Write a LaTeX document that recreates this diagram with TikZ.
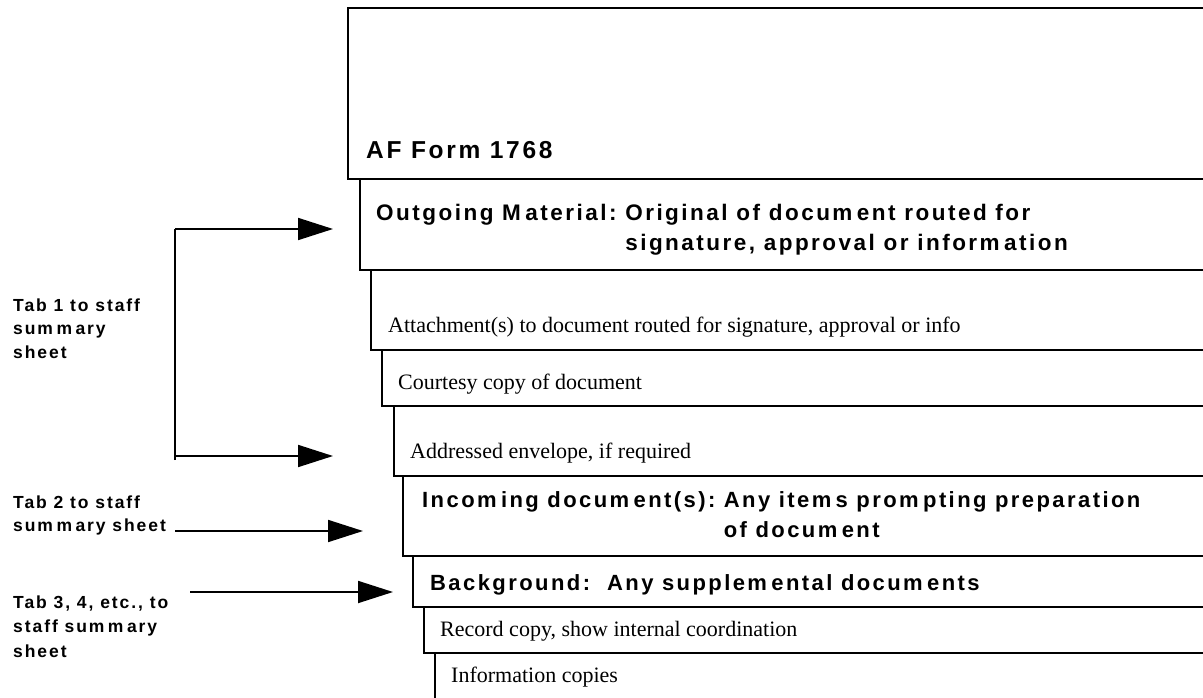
\documentclass[tikz,border=0pt]{standalone}
\usepackage{fontspec}
\setmainfont{Liberation Serif}
\newfontfamily\headfont[LetterSpace=11]{Liberation Sans}
\usetikzlibrary{arrows.meta}
% the wide gap that follows each "m" in the tracked headings
\newcommand{\mgap}{\kern0.2em}

\begin{document}
\begin{tikzpicture}[x=1pt,y=-1pt,
  box/.style={draw=black,line width=1.8pt},
  heading/.style={anchor=base west,inner sep=0pt,
    font=\headfont\bfseries\fontsize{22}{30}\selectfont},
  plain/.style={anchor=base west,inner sep=0pt,
    font=\fontsize{22}{26}\selectfont},
  tablabel/.style={anchor=base west,inner sep=0pt,
    font=\headfont\bfseries\fontsize{17.5}{23.5}\selectfont},
  wire/.style={line width=1.8pt},
  feed/.style={line width=1.8pt,-{Triangle[length=35pt,width=22pt]}},
]
\useasboundingbox (0,0) rectangle (1203,698);
\clip (0,0) rectangle (1203,698);

% stacked sheets, each shifted a little to the right, running off the page edge
\draw[box] (348,8)   rectangle (1230,179);
\draw[box] (360,179) rectangle (1230,270);
\draw[box] (371,270) rectangle (1230,350);
\draw[box] (382,350) rectangle (1230,406);
\draw[box] (394,406) rectangle (1230,476);
\draw[box] (403,476) rectangle (1230,556);
\draw[box] (413,556) rectangle (1230,607);
\draw[box] (424,607) rectangle (1230,653);
\draw[box] (435,653) rectangle (1230,730);

% sheet captions
\node[heading,font=\headfont\bfseries\fontsize{24.5}{30}\selectfont] (form) at (366,159) {AF Form 1768};
\node[heading,font=\headfont\bfseries\fontsize{22.5}{30}\selectfont] (outgoing) at (376,221)
  {\begin{tabular}[t]{@{}l@{}l@{}}Outgoing M\mgap aterial:\ \ & Original of docum\mgap ent routed for\\
   & signature, approval or inform\mgap ation\end{tabular}};
\node[plain] (attach) at (388,332) {Attachment(s) to document routed for signature, approval or info};
\node[plain] (courtesy) at (398,389) {Courtesy copy of document};
\node[plain] (envelope) at (410,458) {Addressed envelope, if required};
\node[heading] (incoming) at (422,507)
  {\begin{tabular}[t]{@{}l@{}l@{}}Incom\mgap ing docum\mgap ent(s):\ \ & Any item\mgap s prom\mgap pting preparation\\
   & of docum\mgap ent\end{tabular}};
\node[heading] (background) at (430,590) {Background:\ \ Any supplem\mgap ental docum\mgap ents};
\node[plain] (record) at (440,636) {Record copy, show internal coordination};
\node[plain] (info) at (451,682) {Information copies};

% tab labels on the left
\node[tablabel] (tab1) at (13,311)
  {\begin{tabular}[t]{@{}l@{}}Tab 1 to staff\\sum\mgap m\mgap ary\\sheet\end{tabular}};
\node[tablabel] (tab2) at (13,508)
  {\begin{tabular}[t]{@{}l@{}}Tab 2 to staff\\sum\mgap m\mgap ary sheet\end{tabular}};
\node[tablabel,font=\headfont\bfseries\fontsize{17.5}{24.5}\selectfont] (tab3) at (13,608)
  {\begin{tabular}[t]{@{}l@{}}Tab 3, 4, etc., to\\staff sum\mgap m\mgap ary\\sheet\end{tabular}};

% bracket for tab 1
\coordinate (brtop)  at (175,229);
\coordinate (brlow)  at (175,456);
\coordinate (brfoot) at (175,460);
\coordinate (tipA)   at (333,229);
\coordinate (tipB)   at (333,456);
\draw[wire] (brfoot) -- (brtop);
\draw[feed] (brtop) -- (tipA);
\draw[feed] (brlow) -- (tipB);

% tab 2 and tab 3 pointers
\coordinate (tabtwo)   at (175,531);
\coordinate (tiptwo)   at (363,531);
\coordinate (tabthree) at (190,592);
\coordinate (tipthree) at (393,592);
\draw[feed] (tabtwo) -- (tiptwo);
\draw[feed] (tabthree) -- (tipthree);
\end{tikzpicture}
\end{document}
